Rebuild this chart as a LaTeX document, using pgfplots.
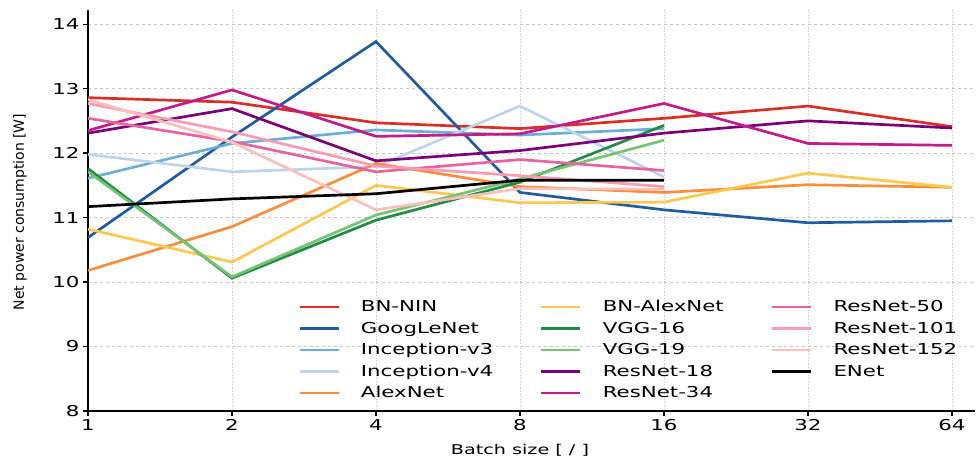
\documentclass[border=0pt]{standalone}
\usepackage{fontspec}
\setmainfont{DejaVu Sans}[FakeStretch=1.42]
\newfontfamily\ylabfont{DejaVu Sans}
\usepackage{pgfplots}
\pgfplotsset{compat=1.18}
\definecolor{cBNNIN}{RGB}{215,48,39}
\definecolor{cGoog}{RGB}{33,91,160}
\definecolor{cIv3}{RGB}{107,174,214}
\definecolor{cIv4}{RGB}{190,212,236}
\definecolor{cAlex}{RGB}{253,141,60}
\definecolor{cBNAlex}{RGB}{252,200,80}
\definecolor{cVGG16}{RGB}{35,139,69}
\definecolor{cVGG19}{RGB}{116,196,118}
\definecolor{cR18}{RGB}{122,1,119}
\definecolor{cR34}{RGB}{197,27,138}
\definecolor{cR50}{RGB}{232,100,160}
\definecolor{cR101}{RGB}{248,155,180}
\definecolor{cR152}{RGB}{250,192,188}
\begin{document}
\begin{tikzpicture}
\begin{axis}[
  at={(0pt,0pt)}, anchor=south west,
  scale only axis, width=887pt, height=401pt,
  xmin=0, xmax=6.16, ymin=8, ymax=14.22,
  xtick={0,1,2,3,4,5,6}, xticklabels={1,2,4,8,16,32,64},
  ytick={8,9,10,11,12,13,14},
  /pgf/number format/assume math mode=true,
  ticklabel style={font=\fontsize{15}{18}\selectfont},
  axis lines=left, axis line style={-, line width=1.6pt, black},
  tick align=outside, major tick length=5pt, tick style={black, line width=1.3pt},
  xmajorgrids, ymajorgrids,
  x grid style={gray!45, dotted, line width=0.9pt},
  y grid style={gray!45, dash pattern=on 3pt off 3pt, line width=0.9pt},
  xlabel={Batch size [ / ]},
  ylabel={\ylabfont Net power consumption [W]},
  xlabel style={at={(axis description cs:0.487,-0.0973)}, anchor=center, font=\fontsize{13.5}{16}\selectfont},
  ylabel style={at={(axis description cs:-0.0767,0.496)}, anchor=center, font=\fontsize{14}{16}\selectfont},
  every axis plot/.append style={line width=2.7pt, mark=none},
  legend style={at={(0.2368,0.2868)}, anchor=north west, draw=none, fill=none,
    inner sep=0pt, row sep=0pt, font=\fontsize{15}{18}\selectfont,
    nodes={inner xsep=0pt, inner ysep=0pt, minimum height=21.5pt},
    /tikz/every odd column/.append style={column sep=21pt},
    /tikz/every even column/.append style={column sep=47pt}},
  legend image code/.code={\draw[#1, line width=2.7pt] (0pt,0pt) -- (39pt,0pt);},
  legend cell align=left,
  legend columns=5, transpose legend,
]
\addplot[cBNNIN] coordinates {(0,12.86)(1,12.79)(2,12.47)(3,12.38)(4,12.54)(5,12.73)(6,12.41)};
\addlegendentry{BN-NIN}
\addplot[cGoog] coordinates {(0,10.69)(1,12.25)(2,13.73)(3,11.39)(4,11.12)(5,10.92)(6,10.95)};
\addlegendentry{GoogLeNet}
\addplot[cIv3] coordinates {(0,11.61)(1,12.15)(2,12.36)(3,12.28)(4,12.38)};
\addlegendentry{Inception-v3}
\addplot[cIv4] coordinates {(0,11.98)(1,11.71)(2,11.79)(3,12.73)(4,11.63)};
\addlegendentry{Inception-v4}
\addplot[cAlex] coordinates {(0,10.18)(1,10.86)(2,11.84)(3,11.48)(4,11.39)(5,11.51)(6,11.47)};
\addlegendentry{AlexNet}
\addplot[cBNAlex] coordinates {(0,10.82)(1,10.31)(2,11.50)(3,11.23)(4,11.24)(5,11.69)(6,11.47)};
\addlegendentry{BN-AlexNet}
\addplot[cVGG16] coordinates {(0,11.76)(1,10.06)(2,10.96)(3,11.55)(4,12.43)};
\addlegendentry{VGG-16}
\addplot[cVGG19] coordinates {(0,11.71)(1,10.08)(2,11.04)(3,11.60)(4,12.20)};
\addlegendentry{VGG-19}
\addplot[cR18] coordinates {(0,12.31)(1,12.69)(2,11.88)(3,12.04)(4,12.31)(5,12.50)(6,12.39)};
\addlegendentry{ResNet-18}
\addplot[cR34] coordinates {(0,12.35)(1,12.98)(2,12.26)(3,12.30)(4,12.77)(5,12.15)(6,12.12)};
\addlegendentry{ResNet-34}
\addplot[cR50] coordinates {(0,12.54)(1,12.18)(2,11.71)(3,11.90)(4,11.73)};
\addlegendentry{ResNet-50}
\addplot[cR101] coordinates {(0,12.77)(1,12.33)(2,11.80)(3,11.65)(4,11.48)};
\addlegendentry{ResNet-101}
\addplot[cR152] coordinates {(0,12.83)(1,12.17)(2,11.12)(3,11.45)(4,11.44)};
\addlegendentry{ResNet-152}
\addplot[black] coordinates {(0,11.17)(1,11.29)(2,11.37)(3,11.58)(4,11.58)};
\addlegendentry{ENet}
\end{axis}
\pgfresetboundingbox
\path (-88pt,-50pt) rectangle (892pt,411pt);
\end{tikzpicture}
\end{document}
